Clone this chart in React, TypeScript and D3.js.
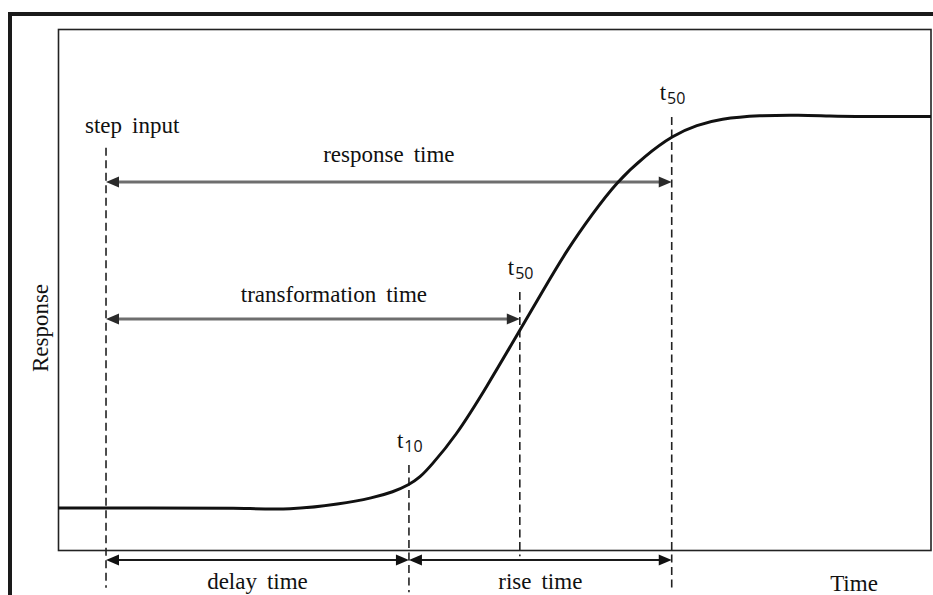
import React from "react";
import * as d3 from "d3";

// Response curve (time in % of window, response in % of final value)
const curveTime = [0, 10.5, 20.8, 26.6, 32.3, 36.1, 38.4, 40.2, 41.5, 42.6, 45.5, 49.1, 52.8, 55.6, 58.3, 61.2, 64.0, 67.2, 70.5, 73.2, 75.8, 80.4, 85.0, 88.4, 91.9, 100];
const curveResponse = [0, 0, 0, -0.5, 1.0, 2.6, 4.1, 5.9, 7.9, 10.5, 18.1, 30.9, 45.0, 55.7, 65.9, 75.1, 83.3, 89.9, 95.3, 97.8, 99.4, 100.3, 100.4, 100.1, 100, 100];

// Vertical dashed markers
const markerLabels = ["step input", "t|10", "t|50", "t|50"];
const markerTimes = [5.5, 40.2, 52.9, 70.3];
const markerTop = [92, 11, 55.2, 99.9];
const markerBottom = [-20.4, -21.5, -12.3, -20.4];

// Interval arrows
const intervalLabels = ["response time", "transformation time", "delay time", "rise time"];
const intervalStart = [5.5, 5.5, 5.5, 40.2];
const intervalEnd = [70.3, 52.9, 40.2, 70.3];
const intervalLevel = [83.3, 48.3, -13.3, -13.3];

const xLabel = "Time";
const yLabel = "Response";

const W = 933;
const H = 595;
const box = { left: 58.5, top: 29.5, right: 931, bottom: 550.5 };
const SERIF = "Liberation Serif, Times New Roman, serif";
const SANS = "Open Sans, Noto Sans, sans-serif";
const FS = 23;

const Words = ({ text }: { text: string }) => (
  <>
    {text.split(" ").map((w, j) => (
      <tspan key={j} dx={j ? 10 : 0}>
        {w}
      </tspan>
    ))}
  </>
);

export default function App() {
  const x = d3.scaleLinear().domain([0, 100]).range([58, 931]);
  const y = d3.scaleLinear().domain([0, 100]).range([508, 116.5]);

  const pts: [number, number][] = curveTime.map((t, i) => [t, curveResponse[i]]);
  const line = d3
    .line<[number, number]>()
    .x((d) => x(d[0]))
    .y((d) => y(d[1]))
    .curve(d3.curveBasis);

  const arrowHead = (tipX: number, tipY: number, dir: number, color: string, key: string) => {
    const len = 13;
    const half = 5.5;
    const p = `M${tipX},${tipY} L${tipX - dir * len},${tipY - half} L${tipX - dir * len},${tipY + half} Z`;
    return <path key={key} d={p} fill={color} />;
  };

  const labelShift = [0, 21, 0, 0];
  const labelDy = [-20, -17, 29, 29];

  return (
    <svg
      width={W}
      height={H}
      style={{ position: "absolute", left: 0, top: 0, background: "#fff" }}
    >
      <rect x={0} y={0} width={W} height={H} fill="#fff" />
      {/* outer frame */}
      <line x1={8} x2={W} y1={14} y2={14} stroke="#1a1a1a" strokeWidth={4} />
      <line x1={10} x2={10} y1={12} y2={H} stroke="#1a1a1a" strokeWidth={4} />
      {/* inner box */}
      <rect
        x={box.left}
        y={box.top}
        width={box.right - box.left}
        height={box.bottom - box.top}
        fill="none"
        stroke="#222"
        strokeWidth={1.6}
      />

      {/* dashed markers */}
      {markerTimes.map((t, i) => (
        <line
          key={"m" + i}
          x1={x(t)}
          x2={x(t)}
          y1={y(markerTop[i])}
          y2={y(markerBottom[i])}
          stroke="#222"
          strokeWidth={1.6}
          strokeDasharray="8,4.5"
        />
      ))}

      {/* interval arrows */}
      {intervalLabels.map((lab, i) => {
        const x1 = x(intervalStart[i]);
        const x2 = x(intervalEnd[i]);
        const yy = y(intervalLevel[i]);
        const gray = i < 2;
        const col = gray ? "#6e6e6e" : "#1a1a1a";
        const head = gray ? "#2a2a2a" : "#111";
        return (
          <g key={"a" + i}>
            <line x1={x1 + 8} x2={x2 - 8} y1={yy} y2={yy} stroke={col} strokeWidth={gray ? 3 : 2} />
            {arrowHead(x1, yy, -1, head, "h1")}
            {arrowHead(x2, yy, 1, head, "h2")}
            <text
              x={(x1 + x2) / 2 + labelShift[i]}
              y={yy + labelDy[i]}
              textAnchor="middle"
              fontFamily={SERIF}
              fontSize={FS}
              fill="#111"
            >
              <Words text={lab} />
            </text>
          </g>
        );
      })}

      {/* response curve */}
      <path d={line(pts) || ""} fill="none" stroke="#111" strokeWidth={3} strokeLinejoin="round" />

      {/* marker labels */}
      {markerLabels.map((lab, i) => {
        const xx = x(markerTimes[i]);
        const yy = y(markerTop[i]);
        if (!lab.includes("|")) {
          return (
            <text key={"ml" + i} x={xx - 21} y={yy - 15} fontFamily={SERIF} fontSize={FS} fill="#111">
              <Words text={lab} />
            </text>
          );
        }
        const [base, sub] = lab.split("|");
        return (
          <text key={"ml" + i} x={xx - 12} y={yy - 17} fontFamily={SERIF} fontSize={FS} fill="#111">
            {base}
            <tspan fontFamily={SANS} fontSize={16} dy={4} dx={1}>
              {sub}
            </tspan>
          </text>
        );
      })}

      {/* axis labels */}
      <text x={854} y={591} textAnchor="middle" fontFamily={SERIF} fontSize={FS} fill="#111">
        {xLabel}
      </text>
      <text
        transform={`translate(48,${(box.top + box.bottom) / 2 + 38}) rotate(-90)`}
        textAnchor="middle"
        fontFamily={SERIF}
        fontSize={FS}
        fill="#111"
      >
        {yLabel}
      </text>
    </svg>
  );
}
